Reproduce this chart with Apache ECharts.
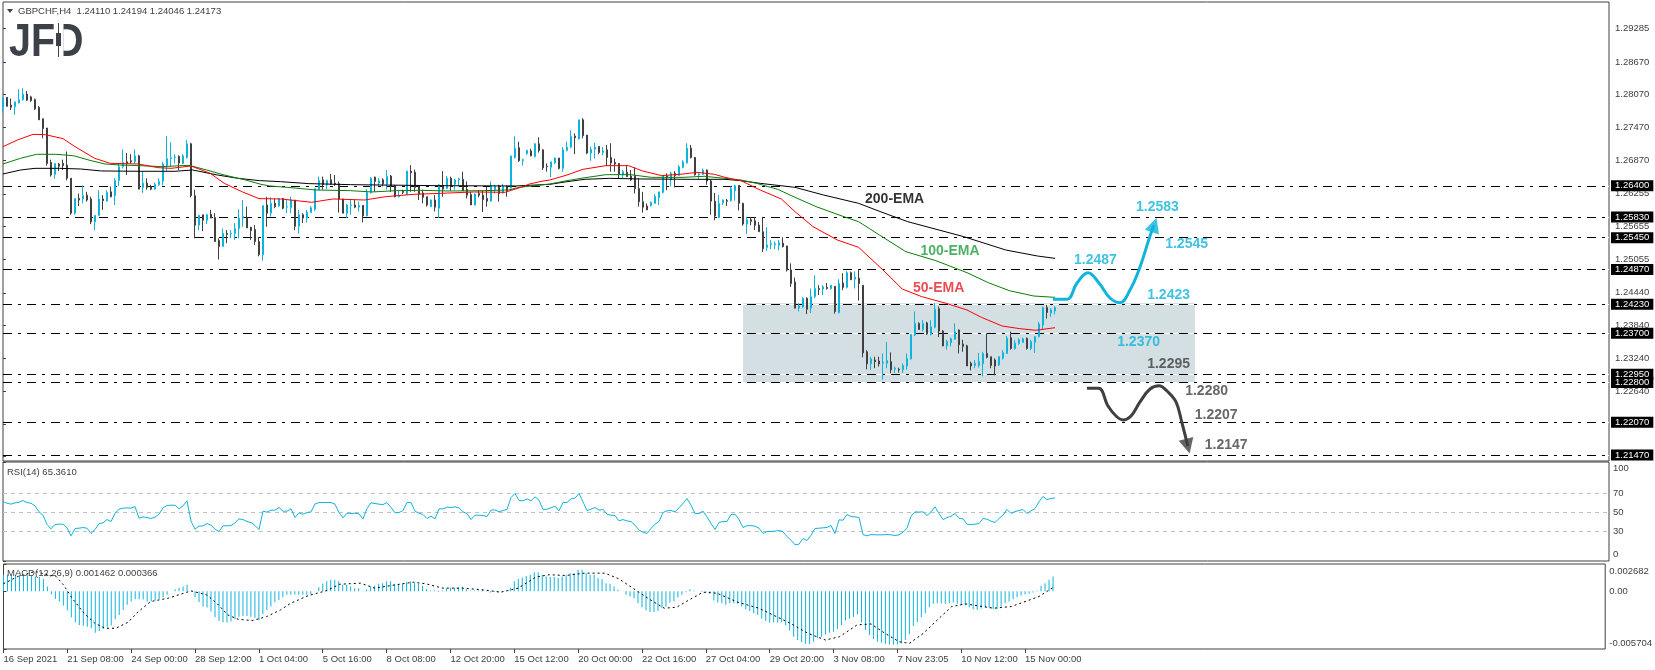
<!DOCTYPE html>
<html lang="en">
<head>
<meta charset="UTF-8">
<title>GBPCHF H4</title>
<script src="https://cdn.jsdelivr.net/npm/echarts@6/dist/echarts.min.js"></script>
<style>
  html, body { margin: 0; padding: 0; background: #fff; }
  #chart { width: 1655px; height: 670px; }
</style>
</head>
<body>
<div id="chart"></div>
<script>
// open, close, low, high per H4 bar
const ohlc = [
[1.2784,1.2802,1.2774,1.2802],[1.2802,1.2786,1.2785,1.2803],[1.2788,1.2784,1.2779,1.2800],[1.2785,1.2794,1.2770,1.2794],[1.2792,1.2798,1.2791,1.2817],[1.2798,1.2808,1.2796,1.2819],
[1.2808,1.2797,1.2796,1.2814],[1.2803,1.2796,1.2794,1.2805],[1.2798,1.2781,1.2779,1.2800],[1.2784,1.2761,1.2761,1.2786],[1.2763,1.2745,1.2727,1.2763],[1.2746,1.2681,1.2677,1.2746],
[1.2683,1.2660,1.2657,1.2688],[1.2661,1.2681,1.2653,1.2681],[1.2680,1.2676,1.2667,1.2682],[1.2681,1.2677,1.2669,1.2688],[1.2678,1.2654,1.2650,1.2703],[1.2654,1.2590,1.2587,1.2654],
[1.2590,1.2617,1.2587,1.2617],[1.2617,1.2614,1.2603,1.2626],[1.2616,1.2622,1.2608,1.2641],[1.2623,1.2614,1.2611,1.2629],[1.2616,1.2574,1.2570,1.2620],[1.2574,1.2586,1.2559,1.2586],
[1.2586,1.2616,1.2585,1.2632],[1.2616,1.2613,1.2596,1.2623],[1.2612,1.2628,1.2611,1.2632],[1.2629,1.2620,1.2619,1.2639],[1.2622,1.2650,1.2605,1.2654],[1.2650,1.2675,1.2640,1.2681],
[1.2675,1.2683,1.2672,1.2707],[1.2684,1.2681,1.2660,1.2700],[1.2686,1.2684,1.2681,1.2698],[1.2684,1.2695,1.2681,1.2707],[1.2695,1.2634,1.2634,1.2697],[1.2637,1.2645,1.2627,1.2666],
[1.2645,1.2637,1.2633,1.2654],[1.2639,1.2634,1.2632,1.2642],[1.2634,1.2643,1.2633,1.2646],[1.2642,1.2648,1.2640,1.2654],[1.2648,1.2680,1.2641,1.2684],[1.2677,1.2690,1.2667,1.2731],
[1.2690,1.2692,1.2675,1.2720],[1.2692,1.2693,1.2681,1.2698],[1.2694,1.2682,1.2669,1.2696],[1.2681,1.2695,1.2680,1.2698],[1.2692,1.2717,1.2690,1.2724],[1.2717,1.2622,1.2619,1.2719],
[1.2622,1.2568,1.2544,1.2633],[1.2568,1.2586,1.2559,1.2587],[1.2587,1.2577,1.2557,1.2587],[1.2577,1.2587,1.2570,1.2589],[1.2588,1.2581,1.2581,1.2596],[1.2582,1.2538,1.2538,1.2590],
[1.2540,1.2529,1.2505,1.2544],[1.2529,1.2553,1.2529,1.2562],[1.2553,1.2551,1.2535,1.2559],[1.2552,1.2553,1.2544,1.2559],[1.2553,1.2562,1.2541,1.2572],[1.2562,1.2581,1.2544,1.2597],
[1.2581,1.2584,1.2565,1.2614],[1.2582,1.2563,1.2563,1.2602],[1.2564,1.2558,1.2541,1.2565],[1.2560,1.2538,1.2532,1.2568],[1.2538,1.2514,1.2511,1.2546],[1.2514,1.2604,1.2503,1.2604],
[1.2605,1.2590,1.2565,1.2620],[1.2590,1.2608,1.2584,1.2619],[1.2608,1.2602,1.2599,1.2617],[1.2603,1.2617,1.2602,1.2617],[1.2617,1.2599,1.2597,1.2617],[1.2601,1.2602,1.2590,1.2614],
[1.2600,1.2614,1.2590,1.2620],[1.2614,1.2566,1.2559,1.2614],[1.2566,1.2587,1.2553,1.2596],[1.2587,1.2581,1.2572,1.2590],[1.2581,1.2592,1.2573,1.2596],[1.2591,1.2600,1.2590,1.2603],
[1.2597,1.2635,1.2594,1.2635],[1.2633,1.2650,1.2632,1.2657],[1.2651,1.2642,1.2633,1.2657],[1.2642,1.2650,1.2634,1.2651],[1.2651,1.2643,1.2642,1.2662],[1.2645,1.2643,1.2640,1.2660],
[1.2644,1.2616,1.2591,1.2648],[1.2616,1.2590,1.2590,1.2616],[1.2590,1.2605,1.2581,1.2607],[1.2604,1.2605,1.2587,1.2614],[1.2605,1.2601,1.2599,1.2615],[1.2601,1.2604,1.2593,1.2611],
[1.2604,1.2585,1.2573,1.2605],[1.2585,1.2628,1.2584,1.2634],[1.2628,1.2654,1.2626,1.2656],[1.2656,1.2648,1.2629,1.2657],[1.2645,1.2649,1.2640,1.2654],[1.2651,1.2644,1.2639,1.2654],
[1.2643,1.2657,1.2633,1.2669],[1.2658,1.2639,1.2629,1.2660],[1.2640,1.2620,1.2619,1.2642],[1.2620,1.2622,1.2619,1.2631],[1.2630,1.2628,1.2625,1.2633],[1.2625,1.2667,1.2623,1.2668],
[1.2667,1.2664,1.2629,1.2678],[1.2665,1.2637,1.2629,1.2670],[1.2638,1.2625,1.2614,1.2640],[1.2627,1.2619,1.2608,1.2633],[1.2620,1.2605,1.2602,1.2620],[1.2602,1.2614,1.2601,1.2615],
[1.2614,1.2601,1.2593,1.2623],[1.2599,1.2642,1.2581,1.2643],[1.2641,1.2634,1.2620,1.2667],[1.2635,1.2654,1.2634,1.2658],[1.2654,1.2639,1.2631,1.2657],[1.2643,1.2651,1.2633,1.2653],
[1.2651,1.2653,1.2639,1.2655],[1.2652,1.2631,1.2631,1.2666],[1.2634,1.2623,1.2617,1.2648],[1.2624,1.2605,1.2605,1.2629],[1.2605,1.2625,1.2604,1.2626],[1.2626,1.2623,1.2619,1.2632],
[1.2623,1.2615,1.2592,1.2632],[1.2617,1.2612,1.2602,1.2639],[1.2612,1.2639,1.2611,1.2648],[1.2633,1.2639,1.2626,1.2642],[1.2640,1.2626,1.2611,1.2642],[1.2627,1.2639,1.2626,1.2644],
[1.2639,1.2631,1.2620,1.2641],[1.2636,1.2695,1.2635,1.2695],[1.2692,1.2709,1.2690,1.2731],[1.2710,1.2686,1.2684,1.2721],[1.2686,1.2688,1.2677,1.2690],[1.2699,1.2705,1.2697,1.2706],
[1.2704,1.2695,1.2694,1.2708],[1.2694,1.2717,1.2692,1.2718],[1.2717,1.2705,1.2701,1.2729],[1.2706,1.2673,1.2669,1.2707],[1.2676,1.2675,1.2666,1.2681],
[1.2674,1.2684,1.2656,1.2684],[1.2682,1.2691,1.2680,1.2692],[1.2691,1.2672,1.2670,1.2691],[1.2672,1.2706,1.2666,1.2711],[1.2705,1.2711,1.2703,1.2721],[1.2711,1.2731,1.2709,1.2742],
[1.2731,1.2728,1.2698,1.2736],[1.2726,1.2761,1.2725,1.2761],[1.2761,1.2732,1.2727,1.2764],[1.2733,1.2700,1.2698,1.2733],[1.2700,1.2707,1.2686,1.2712],[1.2707,1.2711,1.2690,1.2719],
[1.2712,1.2701,1.2698,1.2713],[1.2701,1.2704,1.2696,1.2711],[1.2706,1.2692,1.2676,1.2715],[1.2692,1.2682,1.2666,1.2718],[1.2683,1.2680,1.2666,1.2690],[1.2681,1.2662,1.2654,1.2682],
[1.2660,1.2666,1.2654,1.2669],[1.2665,1.2657,1.2656,1.2678],[1.2658,1.2651,1.2649,1.2669],[1.2659,1.2635,1.2626,1.2674],[1.2635,1.2611,1.2602,1.2654],[1.2611,1.2601,1.2591,1.2629],
[1.2603,1.2596,1.2596,1.2608],[1.2604,1.2610,1.2602,1.2611],[1.2608,1.2621,1.2607,1.2625],[1.2618,1.2629,1.2605,1.2629],[1.2628,1.2659,1.2626,1.2660],[1.2658,1.2656,1.2632,1.2663],
[1.2651,1.2663,1.2639,1.2666],[1.2663,1.2659,1.2637,1.2667],[1.2659,1.2675,1.2658,1.2678],[1.2674,1.2684,1.2672,1.2687],[1.2682,1.2709,1.2681,1.2718],[1.2709,1.2692,1.2690,1.2715],
[1.2692,1.2660,1.2659,1.2693],[1.2660,1.2662,1.2652,1.2664],[1.2661,1.2669,1.2660,1.2672],[1.2669,1.2649,1.2642,1.2670],[1.2649,1.2612,1.2587,1.2651],[1.2612,1.2585,1.2577,1.2627],
[1.2582,1.2608,1.2581,1.2623],[1.2609,1.2614,1.2605,1.2615],[1.2613,1.2612,1.2603,1.2616],[1.2613,1.2635,1.2611,1.2639],[1.2631,1.2640,1.2613,1.2642],[1.2641,1.2608,1.2595,1.2641],
[1.2608,1.2570,1.2567,1.2609],[1.2570,1.2578,1.2552,1.2583],[1.2578,1.2575,1.2568,1.2583],[1.2576,1.2568,1.2559,1.2583],[1.2568,1.2556,1.2556,1.2574],[1.2556,1.2525,1.2519,1.2583],
[1.2527,1.2532,1.2521,1.2564],[1.2532,1.2534,1.2524,1.2541],[1.2532,1.2534,1.2524,1.2538],[1.2531,1.2536,1.2522,1.2541],[1.2535,1.2529,1.2527,1.2546],[1.2530,1.2486,1.2483,1.2530],
[1.2486,1.2461,1.2455,1.2498],[1.2464,1.2416,1.2416,1.2472],[1.2416,1.2420,1.2410,1.2425],[1.2418,1.2434,1.2416,1.2436],[1.2434,1.2414,1.2405,1.2436],[1.2416,1.2437,1.2407,1.2452],
[1.2437,1.2452,1.2434,1.2476],[1.2452,1.2450,1.2440,1.2458],[1.2451,1.2455,1.2440,1.2458],[1.2454,1.2452,1.2450,1.2462],[1.2452,1.2458,1.2450,1.2458],[1.2456,1.2410,1.2406,1.2456],
[1.2408,1.2461,1.2406,1.2469],[1.2462,1.2454,1.2449,1.2480],[1.2454,1.2481,1.2452,1.2484],[1.2481,1.2468,1.2468,1.2483],[1.2469,1.2473,1.2452,1.2483],[1.2471,1.2461,1.2430,1.2487],
[1.2458,1.2334,1.2326,1.2458],[1.2336,1.2314,1.2304,1.2339],[1.2314,1.2323,1.2303,1.2327],[1.2321,1.2318,1.2306,1.2327],[1.2319,1.2314,1.2309,1.2327],[1.2315,1.2317,1.2285,1.2333],
[1.2315,1.2320,1.2306,1.2354],[1.2318,1.2303,1.2297,1.2335],[1.2304,1.2306,1.2297,1.2309],[1.2304,1.2303,1.2298,1.2307],[1.2303,1.2311,1.2297,1.2315],[1.2310,1.2324,1.2303,1.2333],
[1.2323,1.2368,1.2322,1.2368],[1.2367,1.2388,1.2365,1.2410],[1.2388,1.2377,1.2376,1.2390],[1.2377,1.2388,1.2373,1.2394],[1.2389,1.2369,1.2367,1.2391],[1.2368,1.2382,1.2366,1.2394],
[1.2381,1.2414,1.2379,1.2425],[1.2415,1.2374,1.2363,1.2419],[1.2374,1.2347,1.2346,1.2376],[1.2347,1.2355,1.2340,1.2358],[1.2353,1.2360,1.2346,1.2362],[1.2359,1.2373,1.2358,1.2388],
[1.2376,1.2349,1.2333,1.2377],[1.2350,1.2346,1.2336,1.2358],[1.2347,1.2310,1.2310,1.2349],[1.2315,1.2310,1.2302,1.2318],[1.2311,1.2315,1.2306,1.2321],[1.2311,1.2318,1.2307,1.2334],
[1.2314,1.2333,1.2291,1.2336],[1.2333,1.2326,1.2324,1.2370],[1.2327,1.2311,1.2306,1.2327],[1.2321,1.2310,1.2293,1.2324],[1.2312,1.2327,1.2310,1.2328],[1.2324,1.2335,1.2322,1.2339],
[1.2333,1.2361,1.2332,1.2365],[1.2362,1.2342,1.2340,1.2373],[1.2342,1.2352,1.2340,1.2358],[1.2351,1.2358,1.2349,1.2361],[1.2353,1.2360,1.2352,1.2362],[1.2361,1.2342,1.2340,1.2362],
[1.2342,1.2355,1.2339,1.2358],[1.2353,1.2364,1.2334,1.2365],[1.2364,1.2387,1.2362,1.2391],[1.2385,1.2417,1.2377,1.2419],[1.2417,1.2408,1.2397,1.2422],[1.2407,1.2413,1.2400,1.2416],
[1.24110,1.24173,1.24046,1.24194]
];

// moving averages as [bar, price] readings
const ema50 = [[0,1.27118],[3.6,1.2724],[7.5,1.27344],[10.6,1.27338],[15,1.27265],[18,1.27118],[22.9,1.26905],[26.8,1.26813],[33.8,1.26801],[38.7,1.26734],[42,1.26721],[47,1.26764],[51.8,1.2663],[55.3,1.26447],[59.7,1.26294],[64,1.26166],[69.4,1.2616],[77.2,1.26099],[82.5,1.2616],[90.4,1.26141],[95.7,1.26202],[102.7,1.26245],[109.7,1.26264],[117.6,1.26288],[125.5,1.26282],[130,1.26386],[131.6,1.26434],[135,1.26489],[136.7,1.26507],[141,1.26599],[145,1.26703],[150.7,1.2677],[156.4,1.2677],[159.9,1.26672],[164.7,1.26587],[170,1.26617],[173.5,1.26648],[177.9,1.26611],[180.5,1.26556],[184.5,1.26495],[189.3,1.26324],[194.6,1.26159],[198,1.25927],[202.5,1.25653],[208.6,1.25408],[213.9,1.25274],[220,1.24859],[224.8,1.24511],[229.7,1.2437],[235.8,1.24248],[241,1.24126],[244.6,1.23992],[249.8,1.23833],[254.2,1.23784],[258.2,1.23754],[263,1.23802]];
const ema100 = [[0,1.26801],[4.4,1.26905],[8.4,1.26978],[13.2,1.26978],[17.6,1.26953],[22,1.26862],[25.5,1.26801],[29,1.26783],[34.3,1.2677],[39.5,1.26752],[46.5,1.26776],[50.9,1.26691],[55.3,1.26599],[60.6,1.26508],[64.5,1.26428],[66.7,1.26398],[72,1.26367],[78.1,1.26325],[86.9,1.26312],[92.2,1.26288],[98.3,1.26312],[104.4,1.26318],[111.5,1.26306],[120.2,1.26312],[126.4,1.26325],[129,1.26373],[136.7,1.26434],[141,1.26495],[145,1.26544],[150.7,1.26605],[156.9,1.26605],[162.1,1.26556],[170,1.26556],[175.3,1.26575],[180.5,1.26538],[184.5,1.26507],[188.4,1.26446],[193.7,1.26336],[198,1.2619],[203.3,1.26019],[209.5,1.25854],[213.9,1.25744],[219.1,1.255],[225.7,1.25195],[233.2,1.2503],[241,1.2481],[246.3,1.24627],[251.6,1.2448],[257.7,1.24382],[263,1.24358]];
const ema200 = [[0,1.26618],[4.4,1.26691],[8,1.26721],[14.1,1.26721],[19.4,1.26709],[24.6,1.26673],[34.3,1.26667],[43,1.26667],[47.4,1.26691],[53.6,1.26599],[58.8,1.26538],[64.1,1.26496],[69.4,1.26477],[76.4,1.26441],[86.9,1.26422],[108,1.26404],[128.1,1.26398],[136.7,1.26428],[141,1.26477],[145.5,1.2652],[151.6,1.26538],[159.5,1.26526],[171.8,1.2652],[180.5,1.2652],[184.5,1.26495],[189.3,1.26446],[198,1.26373],[205.1,1.26233],[213.9,1.2608],[220,1.25909],[226.2,1.25744],[240.2,1.25469],[250.7,1.25225],[258.6,1.25115],[263,1.25072]];

const rsi = [61.6,59.8,58.8,60.2,60.9,62.6,60.5,59.8,57,50.7,47.2,37.4,32.8,37.4,37.7,37.7,33.9,25.4,33.2,33.5,34.2,33.5,27.9,32.1,38.4,39.1,42.6,40.5,49,53.5,54.6,54.9,54.6,56.3,44,45.4,44.7,43.7,45.1,48.2,54.9,57.4,57.7,57.7,53.9,57,62.3,40.9,32.5,35.6,36,38.4,36.7,32.5,30,36,36,36.3,39.1,43.3,42.6,40.5,39.5,36.3,32.1,51.4,50.4,52.5,52.5,55.3,51.4,51.4,53.9,44.7,49.7,48.2,50,50.7,59.1,60.5,60.5,60.5,60.5,58.8,50,44.4,49.3,49,49.3,48.6,43.3,54.2,60.2,59.5,58.8,58.4,60.5,55.3,49.7,50,52.1,60.5,60.5,51.4,49.3,47.9,43.7,46.1,43.3,53.9,53.9,55.6,55.3,56,54.9,50.7,49,42.6,47.2,47.2,46.8,45.8,52.5,52.8,50.7,52.1,53.2,65.8,70,62.6,62.3,64.4,62.3,66.5,63,53.2,53.5,
54.9,56.7,51.8,60.5,60.5,64.4,65.1,70,61.2,52.1,53.5,55.3,52.5,53.2,48.2,47.2,46.8,41.2,42.6,41.2,40.5,36.7,31.4,29.3,27.9,33.2,37.7,40.5,50,51.8,52.1,50.7,54.9,59.5,64.7,57.7,49,49,51.4,45.4,38.4,32.1,39.5,40.5,40.5,47.9,48.2,42.6,34.2,36,36.3,35.6,33.5,27.9,30,30,30.4,31.1,29.7,24.7,20.9,16,16.7,22.6,20.5,26.1,33.2,33.5,33.9,34.2,36.3,27.9,42.3,41.9,47.9,45.8,45.4,44.7,26.8,25.4,26.8,26.5,26.5,26.5,26.8,26.5,25.8,26.5,29.3,33.5,46.1,50.7,50.4,50.7,46.8,50.7,56,49,42.6,44.7,46.1,49,44,43.3,37.7,37.4,37.7,38.4,43.7,43,40.9,39.5,43.7,47.2,53.2,49,51,52.1,53.2,49,51.8,54.2,61.2,66.9,63.7,64.7,65.36];

const macdHist = [.00162,.00162,.00162,.00162,.00162,.00162,.00155,.00155,.00145,.00139,.00119,.00046,-.0003,-.00076,-.00102,-.00142,-.00191,-.00257,-.00307,-.00333,-.0034,-.0035,-.00366,-.00409,-.00393,-.00373,-.00356,-.00337,-.00277,-.00234,-.00185,-.00135,-.00102,-.00079,-.00079,-.00083,-.00102,-.00102,-.00092,-.00079,-.00063,-.00036,0,.0002,.00033,.00046,.00063,.00003,-.00059,-.00106,-.00152,-.00162,-.00201,-.00257,-.00294,-.00307,-.0031,-.003,-.00274,-.00251,-.00244,-.00244,-.00251,-.00261,-.00284,-.00224,-.00185,-.00152,-.00109,-.00086,-.00059,-.00036,-.00036,-.00036,-.00036,-.00036,-.00036,-.0003,-.00003,.0004,.00076,.00099,.00112,.00112,.00099,.00063,.00063,.00046,.0003,.0003,-.00003,.00017,.00046,.00053,.00073,.00079,.00099,.00099,.00073,.00069,.00076,.00089,.00096,.00079,.00073,.00053,.0002,.00007,.00007,-.00007,.00007,.00026,.00033,.00036,.0004,.00043,.0002,.00007,.00007,.00007,.00013,-.00003,-.00013,-.00007,-.00013,-.00007,.00007,.00033,.00099,.00119,.00135,.00149,.00162,.00188,.00188,.00162,.00145,
.00139,.00139,.00129,.00145,.00158,.00178,.00178,.00211,.00211,.00178,.00162,.00162,.00129,.00119,.00079,.00073,.00046,.00013,0,-.00036,-.00053,-.00069,-.00119,-.00158,-.00191,-.00205,-.00205,-.00195,-.00168,-.00152,-.00112,-.00099,-.00063,-.00036,-.0001,.0002,.00007,0,-.00007,-.00013,-.0002,-.00092,-.00112,-.00119,-.00135,-.00119,-.00119,-.00125,-.00152,-.00178,-.00195,-.00218,-.00234,-.00271,-.00294,-.0031,-.0031,-.0031,-.00307,-.00337,-.00389,-.00449,-.00482,-.00502,-.00518,-.00521,-.00498,-.00465,-.00449,-.00426,-.00409,-.00399,-.00373,-.00337,-.0029,-.00271,-.00251,-.00228,-.00307,-.00383,-.00432,-.00472,-.00498,-.00508,-.00518,-.00525,-.00528,-.00525,-.00515,-.00482,-.00426,-.00343,-.00304,-.00257,-.00218,-.00158,-.00125,-.00119,-.00119,-.00125,-.00119,-.00109,-.00125,-.00139,-.00142,-.00158,-.00178,-.00185,-.00172,-.00162,-.00168,-.00175,-.00178,-.00152,-.00119,-.00102,-.00079,-.00059,-.00043,-.00033,-.00026,-.00013,.00007,.00053,.00079,.00112,.00146];
const macdSignal = [[0,.00073],[3.6,.00145],[7.9,.00195],[11,.00162],[13.2,.00145],[15,.00063],[17.2,-.00069],[20.2,-.00218],[22.9,-.00317],[25.5,-.00366],[28.1,-.00366],[31.2,-.00307],[33.8,-.00201],[36.9,-.00102],[41.3,-.00069],[43.9,-.00036],[47,.00003],[50.9,-.00036],[53.6,-.00125],[56.2,-.00234],[58.8,-.00277],[62.3,-.0029],[65.9,-.00251],[69.4,-.00185],[72,-.00119],[76.4,-.00043],[80.8,.00003],[84.3,.00069],[89.5,.00079],[93,.0003],[98.3,.00063],[102.7,.00089],[105.8,.00073],[110.1,.0003],[115,.0003],[120.2,.00013],[124.6,-.0001],[129,.0003],[133.4,.00139],[136.7,.00162],[141,.00155],[145.5,.00178],[150.7,.00178],[154.2,.00122],[157.7,.0003],[162.1,-.00086],[165.6,-.00168],[168.7,-.00158],[171.8,-.00086],[175.3,-.0001],[178.8,-.0002],[184,-.00109],[189.3,-.00168],[193.7,-.00251],[197.2,-.00317],[201.6,-.00416],[206,-.00482],[209.5,-.00449],[213.9,-.00333],[217.4,-.00323],[220.9,-.00416],[224.4,-.00498],[227,-.00515],[230.5,-.00416],[234,-.00284],[237.6,-.00152],[241,-.00125],[248.1,-.00168],[252.5,-.00152],[259.5,-.00053],[263,.00037]];

const levels = [1.2640,1.2583,1.2545,1.2487,1.2423,1.2370,1.2295,1.2280,1.2207,1.2147];
const lastPrice = 1.24173;
const priceTicks = [1.29285,1.28670,1.28070,1.27470,1.26870,1.26255,1.25655,1.25055,1.24440,1.23840,1.23240,1.22640,1.22040,1.21440];
const rsiLevels = [70,50,30];
const timeLabels = ['16 Sep 2021','21 Sep 08:00','24 Sep 00:00','28 Sep 12:00','1 Oct 04:00','5 Oct 16:00','8 Oct 08:00','12 Oct 20:00','15 Oct 12:00','20 Oct 00:00','22 Oct 16:00','27 Oct 04:00','29 Oct 20:00','3 Nov 08:00','7 Nov 23:05','10 Nov 12:00','15 Nov 00:00'];
const barsPerLabel = 16;

// drawn scenario paths and notes, [bar, price]
const upPath = [[262.5,1.24322],[266,1.24322],[268.5,1.24621],[271.25,1.24809],[274,1.24621],[276.75,1.24346],[279.25,1.2426],[281.75,1.24492],[284.25,1.24914],[286.75,1.25482],[287.8,1.25683]];
const downPath = [[271,1.22692],[273.9,1.22692],[276.25,1.22367],[278.25,1.22184],[280,1.22111],[282,1.22184],[284.25,1.22441],[286.75,1.22679],[289,1.22739],[291,1.22642],[293.25,1.22441],[294.75,1.22056],[296.2,1.21631]];
const zoneBars = [185,298];
const zonePrices = [1.24254,1.22807];
const blueNotes = [['1.2583',288.6,1.26013],['1.2545',295.9,1.25335],['1.2487',273.1,1.25042],['1.2423',291.4,1.24401],['1.2370',283.9,1.2354]];
const darkNotes = [['1.2295',291.4,1.23137],['1.2280',300.9,1.22642],['1.2207',303.3,1.22203],['1.2147',305.8,1.21653]];
const emaNotes = [['200-EMA',222.9,1.26159,'#000000'],['100-EMA',236.75,1.25207,'#1f9e3d'],['50-EMA',233.9,1.24529,'#e6212b']];

const BLUE = '#0fb4dc', DARK = '#404040';
const FONT = '"Liberation Sans", sans-serif';
const DASHDOT = [9, 6, 3, 6];

const fmt5 = v => v.toFixed(5);
const tickBars = timeLabels.map((_, i) => i * barsPerLabel);

function xAxis(gridIndex, max, showLabels) {
  return {
    type: 'value', gridIndex, min: 0, max, splitLine: { show: false },
    axisLine: { show: false, onZero: false },
    axisTick: { show: showLabels, length: 4, inside: false, customValues: tickBars, lineStyle: { color: DARK } },
    axisLabel: {
      show: showLabels, customValues: tickBars, align: 'left', margin: 5, color: DARK,
      fontFamily: FONT, fontSize: 9.5,
      formatter: v => timeLabels[Math.round(v / barsPerLabel)] || ''
    }
  };
}

function yAxis(gridIndex, min, max, tickValues, labelValues, formatter, margin) {
  return {
    type: 'value', gridIndex, position: 'right', min, max, splitLine: { show: false },
    axisLine: { show: false },
    axisTick: { show: true, length: 3, customValues: tickValues, lineStyle: { color: DARK } },
    axisLabel: { customValues: labelValues, formatter, margin, color: DARK, fontFamily: FONT, fontSize: 9.5 }
  };
}

function notesSeries(notes, color) {
  return {
    type: 'scatter', xAxisIndex: 0, yAxisIndex: 0, z: 6, symbolSize: 1, silent: true,
    itemStyle: { color: 'transparent' },
    data: notes.map(n => ({
      value: [n[1], n[2]],
      label: {
        show: true, position: 'inside', formatter: n[0], fontFamily: FONT, fontWeight: 'bold', fontSize: 14,
        color: n[3] || color
      }
    }))
  };
}

function pathSeries(points, color) {
  return {
    type: 'line', xAxisIndex: 0, yAxisIndex: 0, z: 5, smooth: 0.4, symbol: 'none', silent: true,
    lineStyle: { color, width: 3 }, data: points
  };
}

function arrowHead(points, color, rotate) {
  return {
    type: 'scatter', xAxisIndex: 0, yAxisIndex: 0, z: 5, silent: true,
    symbol: 'triangle', symbolSize: [15, 15], symbolRotate: rotate,
    itemStyle: { color }, data: [points[points.length - 1]]
  };
}

function emaSeries(points, color) {
  return {
    type: 'line', xAxisIndex: 0, yAxisIndex: 0, z: 4, symbol: 'none', silent: true,
    lineStyle: { color, width: 1 }, data: points
  };
}

const levelLine = (yAxis, extra) => Object.assign({ yAxis }, extra);

const option = {
  animation: false,
  backgroundColor: '#ffffff',
  title: [
    { text: 'GBPCHF,H4  1.24110 1.24194 1.24046 1.24173', left: 18, top: 6 },
    { text: 'RSI(14) 65.3610', left: 7, top: 467 },
    { text: 'MACD(12,26,9) 0.001462 0.000366', left: 7, top: 568 }
  ].map(t => Object.assign(t, { padding: 0, textStyle: { color: DARK, fontFamily: FONT, fontSize: 9.5, fontWeight: 'normal' } })),
  grid: [
    { left: 3, top: 2, width: 1606, height: 459, show: true, borderColor: DARK, borderWidth: 1, backgroundColor: 'transparent' },
    { left: 3, top: 462, width: 1606, height: 99, show: true, borderColor: DARK, borderWidth: 1, backgroundColor: 'transparent' },
    { left: 3.5, top: 564, width: 1605.5, height: 85, show: true, borderColor: DARK, borderWidth: 1, backgroundColor: 'transparent' }
  ],
  xAxis: [xAxis(0, 401.5, false), xAxis(1, 401.5, false), xAxis(2, 401.375, true)],
  yAxis: [
    yAxis(0, 1.21360, 1.29768, priceTicks, priceTicks, fmt5, 6),
    yAxis(1, -1.05, 103.2, [-1.05, 30, 50, 70, 103.2], [6, 30, 50, 70, 96], v => ({ 6: '0', 96: '100' })[v] || String(v), 4),
    yAxis(2, -0.005704, 0.002682, [-0.005704, 0, 0.002682], [-0.0051, 0, 0.002],
      v => ({ '-0.0051': '-0.005704', '0': '0.00', '0.002': '0.002682' })[String(v)], 4)
  ],
  graphic: [
    { type: 'polygon', shape: { points: [[7, 9], [13, 9], [10, 13]] }, style: { fill: DARK } },
    // logo: real text, with the D stem swapped for a small candle
    { type: 'text', x: 9, y: 19.5, scaleX: 0.84, style: { text: 'JFD', fill: '#3c4048', font: 'bold 47px "Liberation Sans"' } },
    { type: 'rect', shape: { x: 55.5, y: 20, width: 8, height: 39 }, style: { fill: '#ffffff' } },
    { type: 'rect', shape: { x: 58, y: 23, width: 1, height: 34 }, style: { fill: '#3c4048' } },
    { type: 'rect', shape: { x: 56, y: 33, width: 5, height: 13 }, style: { fill: '#3c4048' } }
  ],
  series: [
    { // grey support/resistance zone
      type: 'line', xAxisIndex: 0, yAxisIndex: 0, data: [], silent: true,
      markArea: {
        silent: true, z: 0.5, itemStyle: { color: '#d3dfe2' },
        data: [[{ xAxis: zoneBars[0], yAxis: zonePrices[0] }, { xAxis: zoneBars[1], yAxis: zonePrices[1] }]]
      }
    },
    { // dash gaps show white over the zone
      type: 'line', xAxisIndex: 0, yAxisIndex: 0, data: [], silent: true,
      markLine: {
        silent: true, symbol: 'none', z: 0.8, precision: 5, label: { show: false },
        lineStyle: { color: '#ffffff', width: 1, type: 'solid' },
        data: levels.map(v => levelLine(v))
      }
    },
    {
      type: 'line', xAxisIndex: 0, yAxisIndex: 0, data: [], silent: true,
      markLine: {
        silent: true, symbol: 'none', z: 1, precision: 5,
        lineStyle: { color: '#000000', width: 1, type: DASHDOT },
        label: {
          show: true, position: 'end', distance: 2, color: '#ffffff', backgroundColor: '#000000',
          fontFamily: FONT, fontSize: 9.5, padding: [1, 4, 0, 4], lineHeight: 10, formatter: p => fmt5(p.value)
        },
        data: [levelLine(lastPrice, { lineStyle: { opacity: 0 }, label: { backgroundColor: DARK } })]
          .concat(levels.map(v => levelLine(v)))
      }
    },
    {
      type: 'candlestick', xAxisIndex: 0, yAxisIndex: 0, z: 3, barWidth: 2, silent: true,
      itemStyle: { color: '#ffffff', color0: DARK, borderColor: BLUE, borderColor0: DARK, borderWidth: 1 },
      data: ohlc.map((row, i) => [i, row[0], row[1], row[2], row[3]])
    },
    emaSeries(ema200, '#000000'),
    emaSeries(ema100, '#0a7d0a'),
    emaSeries(ema50, '#ff0000'),
    pathSeries(upPath, BLUE),
    arrowHead(upPath, BLUE, -18),
    pathSeries(downPath, DARK),
    arrowHead(downPath, DARK, -166),
    notesSeries(blueNotes, BLUE),
    notesSeries(darkNotes, DARK),
    notesSeries(emaNotes),
    {
      type: 'line', xAxisIndex: 1, yAxisIndex: 1, z: 3, symbol: 'none', silent: true,
      lineStyle: { color: BLUE, width: 1 },
      data: rsi.map((v, i) => [i, v]),
      markLine: {
        silent: true, symbol: 'none', label: { show: false }, z: 1,
        lineStyle: { color: '#c0c0c0', width: 1, type: [4, 4] },
        data: rsiLevels.map(v => ({ yAxis: v }))
      }
    },
    {
      type: 'bar', xAxisIndex: 2, yAxisIndex: 2, z: 2, barWidth: 1, silent: true,
      itemStyle: { color: BLUE },
      data: macdHist.map((v, i) => [i, v])
    },
    {
      type: 'line', xAxisIndex: 2, yAxisIndex: 2, z: 3, symbol: 'none', silent: true,
      lineStyle: { color: '#000000', width: 1, type: [2, 3] },
      data: macdSignal
    }
  ]
};

const chart = echarts.init(document.getElementById('chart'));
chart.setOption(option);
</script>
</body>
</html>
